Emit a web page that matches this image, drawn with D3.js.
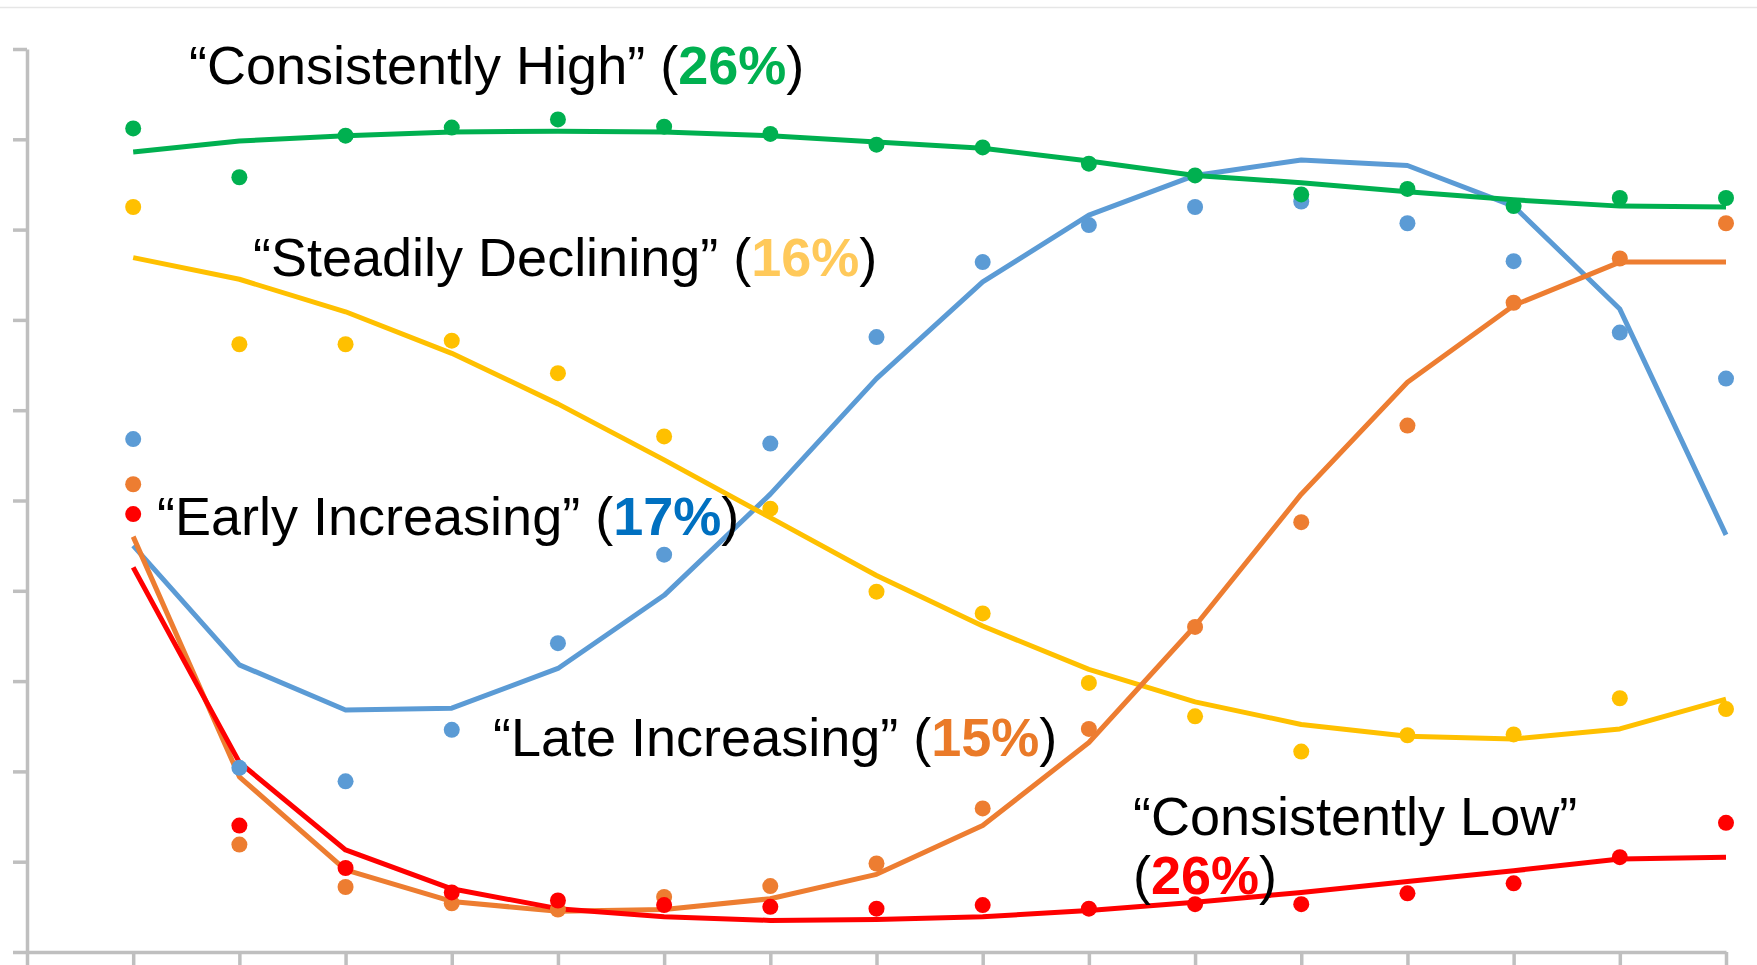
<!DOCTYPE html>
<html>
<head>
<meta charset="utf-8">
<script src="https://cdn.jsdelivr.net/npm/d3@7"></script>
<style>
  html, body { margin: 0; padding: 0; background: #fff; }
  svg { display: block; }
  text { font-family: "Liberation Sans", Arial, Helvetica, sans-serif; }
</style>
</head>
<body>
<svg id="chart" width="1757" height="965"></svg>
<script>
// ---- data (percent) ----
const timePoints = [1, 2, 3, 4, 5, 6, 7, 8, 9, 10, 11, 12, 13, 14, 15, 16];
const yTicks = [0, 10, 20, 30, 40, 50, 60, 70, 80, 90, 100];
const xTicks = [0, 1, 2, 3, 4, 5, 6, 7, 8, 9, 10, 11, 12, 13, 14, 15, 16];

const highObs  = [91.2, 85.8, 90.4, 91.3, 92.2, 91.4, 90.6, 89.4, 89.1, 87.3, 86.0, 83.9, 84.5, 82.6, 83.5, 83.5];
const highFit  = [88.6, 89.8, 90.4, 90.8, 90.9, 90.8, 90.4, 89.7, 89.0, 87.6, 86.0, 85.2, 84.2, 83.3, 82.6, 82.5];

const declObs  = [82.5, 67.3, 67.3, 67.7, 64.1, 57.1, 49.1, 39.9, 37.5, 29.8, 26.1, 22.2, 24.0, 24.1, 28.1, 26.9];
const declFit  = [76.9, 74.5, 70.9, 66.3, 60.7, 54.5, 48.1, 41.7, 36.1, 31.3, 27.7, 25.2, 23.9, 23.6, 24.7, 28.0];

const earlyObs = [56.8, 20.4, 18.9, 24.6, 34.2, 44.0, 56.3, 68.1, 76.4, 80.5, 82.5, 83.1, 80.7, 76.5, 68.6, 63.5];
const earlyFit = [45.0, 31.8, 26.8, 27.0, 31.4, 39.5, 50.7, 63.5, 74.2, 81.6, 86.0, 87.7, 87.1, 82.6, 71.2, 46.2];

const lateObs  = [51.8, 11.9, 7.2, 5.4, 4.7, 6.1, 7.3, 9.8, 15.9, 24.7, 36.0, 47.6, 58.3, 71.9, 76.8, 80.7];
const lateFit  = [46.0, 19.4, 9.1, 5.6, 4.5, 4.7, 5.9, 8.6, 14.0, 23.2, 36.1, 50.7, 63.1, 71.6, 76.4, 76.4];

const lowObs   = [48.5, 14.0, 9.3, 6.6, 5.7, 5.2, 5.0, 4.8, 5.2, 4.8, 5.3, 5.3, 6.5, 7.6, 10.5, 14.3];
const lowFit   = [42.6, 21.0, 11.3, 7.0, 4.8, 3.9, 3.5, 3.6, 3.9, 4.6, 5.5, 6.6, 7.8, 9.0, 10.3, 10.5];

const seriesNames = ["Early Increasing", "Steadily Declining", "Late Increasing", "Consistently Low", "Consistently High"];
const seriesColors = ["#5B9BD5", "#FFC000", "#ED7D31", "#FF0000", "#00B050"];
const seriesObs = [earlyObs, declObs, lateObs, lowObs, highObs];
const seriesFit = [earlyFit, declFit, lateFit, lowFit, highFit];

// labels: [line1 prefix, pct, suffix, pctColor]
const labelText = [
  { pre: "\u201CConsistently High\u201D (", pct: "26%", post: ")", color: "#00B050" },
  { pre: "\u201CSteadily Declining\u201D (", pct: "16%", post: ")", color: "#FFC95A" },
  { pre: "\u201CEarly Increasing\u201D (", pct: "17%", post: ")", color: "#0070C0" },
  { pre: "\u201CLate Increasing\u201D (", pct: "15%", post: ")", color: "#EA7A28" },
];
const lowLabelLine1 = "\u201CConsistently Low\u201D";
const lowLabelPct = "26%";

// ---- drawing ----
const svg = d3.select("#chart");
const W = 1757, H = 965;

const x = d3.scaleLinear().domain([0, 16]).range([27, 1726]);
const y = d3.scaleLinear().domain([0, 100]).range([952, 49]);

// faint line at top
svg.append("line")
  .attr("x1", 0).attr("x2", W).attr("y1", 7.5).attr("y2", 7.5)
  .attr("stroke", "#E6E6E6").attr("stroke-width", 1.5);

const axisColor = "#BFBFBF";

const gy = svg.append("g").attr("transform", `translate(${x(0)},0)`)
  .call(d3.axisLeft(y).tickValues(yTicks).tickSize(14).tickSizeOuter(0).tickFormat(""));
const gx = svg.append("g").attr("transform", `translate(0,${y(0)})`)
  .call(d3.axisBottom(x).tickValues(xTicks).tickSize(14).tickSizeOuter(0).tickFormat(""));
[gx, gy].forEach(g => {
  g.selectAll(".domain").attr("stroke", axisColor).attr("stroke-width", 3.5);
  g.selectAll(".tick line").attr("stroke", axisColor).attr("stroke-width", 3.5);
});

const line = d3.line().x((d, i) => x(timePoints[i])).y(d => y(d));

// fitted lines
seriesFit.forEach((vals, s) => {
  svg.append("path")
    .datum(vals)
    .attr("fill", "none")
    .attr("stroke", seriesColors[s])
    .attr("stroke-width", 5)
    .attr("stroke-linejoin", "round")
    .attr("d", line);
});

// observed dots
seriesObs.forEach((vals, s) => {
  svg.append("g").selectAll("circle")
    .data(vals)
    .join("circle")
    .attr("cx", (d, i) => x(timePoints[i]))
    .attr("cy", d => y(d))
    .attr("r", 8)
    .attr("fill", seriesColors[s]);
});

// labels
const fs = 54;
const labelPos = [
  { x: 189, y: 84 },
  { x: 253, y: 276 },
  { x: 157, y: 535 },
  { x: 493, y: 756 },
];
labelText.forEach((L, i) => {
  const t = svg.append("text")
    .attr("x", labelPos[i].x).attr("y", labelPos[i].y)
    .attr("font-size", fs).attr("fill", "#000");
  t.append("tspan").text(L.pre);
  t.append("tspan").attr("font-weight", "bold").attr("fill", L.color).text(L.pct);
  t.append("tspan").text(L.post);
});

svg.append("text")
  .attr("x", 1133).attr("y", 835)
  .attr("font-size", fs).attr("fill", "#000")
  .text(lowLabelLine1);
const t2 = svg.append("text")
  .attr("x", 1133).attr("y", 894)
  .attr("font-size", fs).attr("fill", "#000");
t2.append("tspan").text("(");
t2.append("tspan").attr("font-weight", "bold").attr("fill", "#FF0000").text(lowLabelPct);
t2.append("tspan").text(")");
</script>
</body>
</html>
